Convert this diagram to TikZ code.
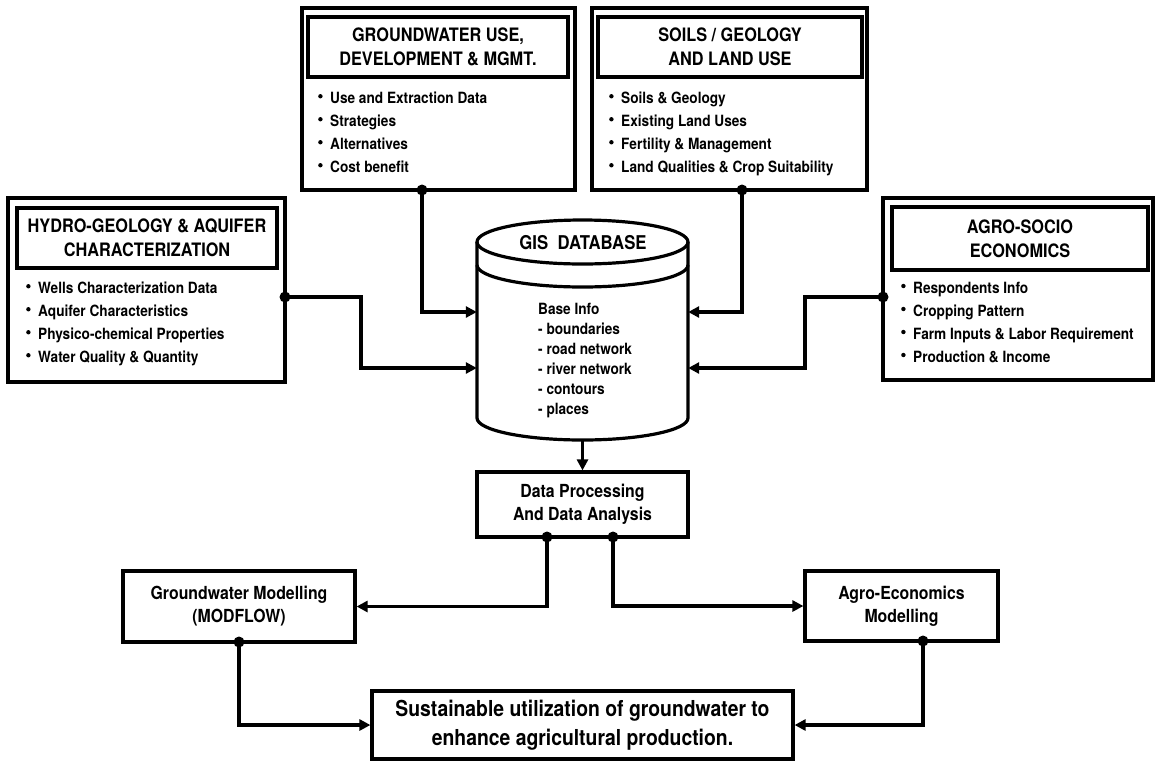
\documentclass[tikz,border=0pt]{standalone}
\usepackage{fontspec}
\setmainfont{texgyreheros}[Extension=.otf, UprightFont=*-bold, BoldFont=*-bold, FakeStretch=0.88]
\usetikzlibrary{arrows.meta}

\newcommand{\bul}{\makebox[12pt][l]{\tikz[baseline=0pt]\fill (2.2pt,7.5pt) circle[radius=2.2pt];}}

\tikzset{%
        panel/.style={
                draw,
                line width=3.2pt,
                inner sep=0pt
            },
        heading/.style={
                draw,
                line width=3.2pt,
                align=center,
                inner sep=0pt,
                font=\fontsize{18.5}{24}\selectfont
            },
        itemlist/.style={
                align=left,
                anchor=north west,
                inner sep=0pt,
                font=\fontsize{15.5}{23}\selectfont
            },
        stage/.style={
                draw,
                line width=3.2pt,
                align=center,
                inner sep=0pt,
                font=\fontsize{18}{23}\selectfont
            },
        link/.style={
                line width=3.4pt,
                -{Triangle[length=11pt,width=11pt]}
            },
        joint/.style={
                circle,
                fill,
                inner sep=0pt,
                minimum size=11pt
            }
    }

\begin{document}
\begin{tikzpicture}[x=1pt, y=1pt]
    \useasboundingbox (0,0) rectangle (1155,-761);

    % input panels:
        \node [panel, minimum width=273, minimum height=182] (gwuse) at (438.5,-99) {};
        \node [heading, minimum width=260, minimum height=60] (gwusehead) at (438,-47) {GROUNDWATER USE,\\DEVELOPMENT \& MGMT.};
        \node [itemlist] (gwuselist) at (318,-92) {\bul Use and Extraction Data\\ \bul Strategies\\ \bul Alternatives\\ \bul Cost benefit};

        \node [panel, minimum width=275, minimum height=182] (soils) at (729.5,-99) {};
        \node [heading, minimum width=264, minimum height=60] (soilshead) at (730,-47) {SOILS / GEOLOGY\\AND LAND USE};
        \node [itemlist] (soilslist) at (609,-92) {\bul Soils \& Geology\\ \bul Existing Land Uses\\ \bul Fertility \& Management\\ \bul Land Qualities \& Crop Suitability};

        \node [panel, minimum width=277, minimum height=184] (hydro) at (146.5,-290) {};
        \node [heading, minimum width=260, minimum height=60] (hydrohead) at (147,-238) {HYDRO-GEOLOGY \& AQUIFER\\CHARACTERIZATION};
        \node [itemlist] (hydrolist) at (26,-282) {\bul Wells Characterization Data\\ \bul Aquifer Characteristics\\ \bul Physico-chemical Properties\\ \bul Water Quality \& Quantity};

        \node [panel, minimum width=270, minimum height=182] (agro) at (1018,-289) {};
        \node [heading, minimum width=256, minimum height=63] (agrohead) at (1020,-238.5) {AGRO-SOCIO\\ECONOMICS};
        \node [itemlist] (agrolist) at (901,-282) {\bul Respondents Info\\ \bul Cropping Pattern\\ \bul Farm Inputs \& Labor Requirement\\ \bul Production \& Income};

    % gis database:
        \node [minimum width=211, minimum height=220, inner sep=0pt] (gis) at (582.5,-330) {};
        \fill [white] (477,-242) -- (477,-418) arc [start angle=180, end angle=360, x radius=105.5, y radius=22] -- (688,-242) arc [start angle=0, end angle=180, x radius=105.5, y radius=22] -- cycle;
        \draw [line width=3.2pt] (477,-242) -- (477,-418) arc [start angle=180, end angle=360, x radius=105.5, y radius=22] -- (688,-242);
        \draw [line width=3.2pt] (582.5,-242) ellipse [x radius=105.5, y radius=22];
        \draw [line width=3.2pt] (477,-265) arc [start angle=180, end angle=360, x radius=105.5, y radius=22];
        \node [inner sep=0pt, font=\fontsize{19}{19}\selectfont] (gistitle) at (583,-243) {GIS\ \ DATABASE};
        \node [itemlist, font=\fontsize{15.5}{20}\selectfont] (baseinfo) at (538,-303) {Base Info\\- boundaries\\- road network\\- river network\\- contours\\- places};

    % processing and modelling:
        \node [stage, minimum width=211, minimum height=65] (dataproc) at (582.5,-504.5) {Data Processing\\And Data Analysis};
        \node [stage, minimum width=232, minimum height=71] (gwmodel) at (239,-606.5) {Groundwater Modelling\\(MODFLOW)};
        \node [stage, minimum width=193, minimum height=70] (agromodel) at (901.5,-606) {Agro-Economics\\Modelling};
        \node [stage, minimum width=421, minimum height=68, font=\fontsize{22}{29}\selectfont] (sustain) at (582.5,-725) {Sustainable utilization of groundwater to\\enhance agricultural production.};

    % joints:
        \node [joint] (gwdot) at (422,-190) {};
        \node [joint] (soilsdot) at (742,-190) {};
        \node [joint] (hydrodot) at (285,-297) {};
        \node [joint] (agrodot) at (883,-297) {};
        \node [joint] (dpdotl) at (547,-537) {};
        \node [joint] (dpdotr) at (613,-537) {};
        \node [joint] (gwmdot) at (239,-642) {};
        \node [joint] (agmdot) at (923,-641) {};

        \draw [link] (gwdot.center) |- ([yshift=18]gis.west);
        \draw [link] (soilsdot.center) |- ([yshift=18]gis.east);
        \draw [link] (hydrodot.center) -- ++(76,0) |- ([yshift=-38]gis.west);
        \draw [link] (agrodot.center) -- ++(-78,0) |- ([yshift=-38]gis.east);
        \draw [link] ([yshift=-110]gis.center) -- (dataproc.north);
        \draw [link] (dpdotl.center) |- (gwmodel.east);
        \draw [link] (dpdotr.center) |- (agromodel.west);
        \draw [link] (gwmdot.center) |- (sustain.west);
        \draw [link] (agmdot.center) |- (sustain.east);
    \end{tikzpicture}
\end{document}
